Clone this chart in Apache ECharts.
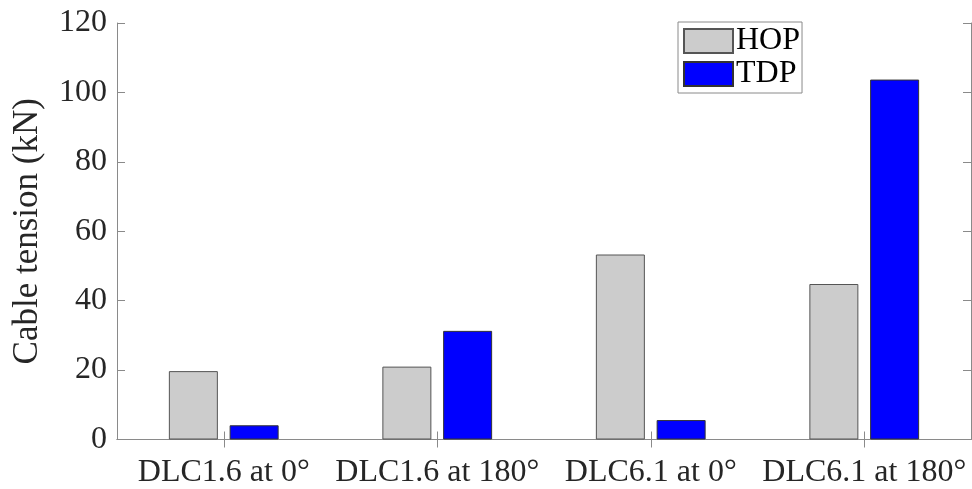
<!DOCTYPE html>
<html>
<head>
<meta charset="utf-8">
<script src="https://cdn.jsdelivr.net/npm/echarts@6/dist/echarts.min.js"></script>
<style>
html,body{margin:0;padding:0;background:#fff;}
#chart{width:972px;height:489px;}
</style>
</head>
<body>
<div id="chart"></div>
<script>
const categories = ['DLC1.6 at 0°', 'DLC1.6 at 180°', 'DLC6.1 at 0°', 'DLC6.1 at 180°'];
const hopValues = [19.7, 21.0, 53.3, 44.8];
const tdpValues = [4.1, 31.3, 5.6, 103.7];
const seriesNames = ['HOP', 'TDP'];
const yTicks = [0, 20, 40, 60, 80, 100, 120];
const yTitle = 'Cable tension (kN)';

const FONT = "'Liberation Serif', 'Times New Roman', serif";
const AXIS_COLOR = '#8a8a8a';
const TEXT_COLOR = '#262626';

const chart = echarts.init(document.getElementById('chart'), null, {renderer: 'canvas'});

const yMin = yTicks[0], yMax = yTicks[yTicks.length - 1], yStep = yTicks[1] - yTicks[0];

const option = {
  animation: false,
  backgroundColor: '#ffffff',
  grid: {left: 117, right: 1, top: 23, bottom: 49.5, containLabel: false},
  legend: {
    orient: 'vertical',
    left: 678,
    top: 22,
    padding: [3, 2, 3, 5],
    itemWidth: 49,
    itemHeight: 24,
    itemGap: 1,
    backgroundColor: '#ffffff',
    borderColor: AXIS_COLOR,
    borderWidth: 1,
    icon: 'rect',
    textStyle: {fontFamily: FONT, fontSize: 32, color: '#000', padding: [0, 0, 0, -2]},
    data: seriesNames
  },
  xAxis: [
    {
      type: 'category', data: categories, position: 'bottom',
      axisLine: {show: true, lineStyle: {color: AXIS_COLOR, width: 1}},
      axisTick: {show: true, inside: true, alignWithLabel: true, length: 8, lineStyle: {color: AXIS_COLOR}},
      axisLabel: {fontFamily: FONT, fontSize: 32, color: TEXT_COLOR, margin: 17, interval: 0, hideOverlap: false},
      splitLine: {show: false}
    },
    {
      type: 'category', data: categories, position: 'top',
      axisLine: {show: true, lineStyle: {color: AXIS_COLOR, width: 1}},
      axisTick: {show: true, inside: true, alignWithLabel: true, length: 8, lineStyle: {color: AXIS_COLOR}},
      axisLabel: {show: false},
      splitLine: {show: false}
    }
  ],
  yAxis: [
    {
      type: 'value', min: yMin, max: yMax, interval: yStep, position: 'left',
      name: yTitle, nameLocation: 'middle', nameGap: 72,
      nameTextStyle: {fontFamily: FONT, fontSize: 35, color: TEXT_COLOR},
      axisLine: {show: true, lineStyle: {color: AXIS_COLOR, width: 1}},
      axisTick: {show: true, inside: true, length: 8, lineStyle: {color: AXIS_COLOR}},
      axisLabel: {fontFamily: FONT, fontSize: 32, color: TEXT_COLOR, margin: 10},
      splitLine: {show: false}
    },
    {
      type: 'value', min: yMin, max: yMax, interval: yStep, position: 'right',
      axisLine: {show: true, lineStyle: {color: AXIS_COLOR, width: 1}},
      axisTick: {show: true, inside: true, length: 8, lineStyle: {color: AXIS_COLOR}},
      axisLabel: {show: false},
      splitLine: {show: false}
    }
  ],
  series: [
    {
      name: seriesNames[0], type: 'bar', xAxisIndex: 0, yAxisIndex: 0,
      data: hopValues, barWidth: 49, barGap: '24%',
      itemStyle: {color: '#cccccc', borderColor: '#555555', borderWidth: 1}
    },
    {
      name: seriesNames[1], type: 'bar', xAxisIndex: 0, yAxisIndex: 0,
      data: tdpValues, barWidth: 49, barGap: '24%',
      itemStyle: {color: '#0000ff', borderColor: '#333333', borderWidth: 1}
    }
  ]
};

chart.setOption(option);
</script>
</body>
</html>
